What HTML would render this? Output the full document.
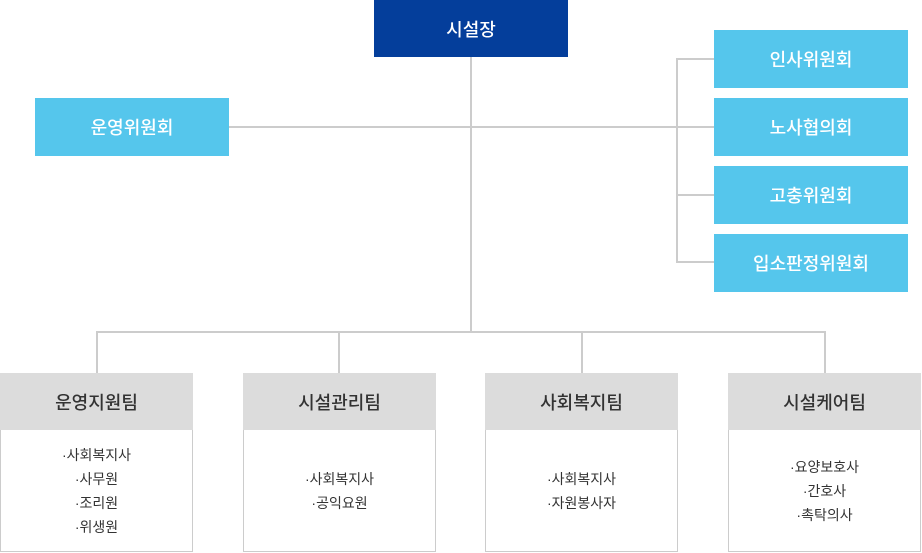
<!DOCTYPE html>
<html><head><meta charset="utf-8"><style>
body{margin:0;width:922px;height:553px;position:relative;background:#fff;font-family:"Liberation Sans","Noto Sans CJK KR",sans-serif;overflow:hidden}
.b{position:absolute;display:flex;align-items:center;justify-content:center;color:#fff;font-size:18px;font-weight:500}
.l{position:absolute;background:#ccc}
.c{background:#55c6ec;width:194px;height:58px}
.t{position:absolute;width:193px;top:373px;height:179px;box-sizing:border-box;border:1px solid #ccc;border-top:none}
.t .h{height:57px;background:#dcdcdc;display:flex;align-items:center;justify-content:center;font-size:18px;color:#333;margin:0 -1px;font-weight:500}
.t .d{height:121px;display:flex;flex-direction:column;align-items:center;justify-content:center;font-size:14px;color:#333;line-height:24px}
</style></head><body>
<div class="l" style="left:470px;top:57px;width:2px;height:276px"></div>
<div class="l" style="left:229px;top:126px;width:485px;height:2px"></div>
<div class="l" style="left:676px;top:58px;width:2px;height:205px"></div>
<div class="l" style="left:676px;top:58px;width:38px;height:2px"></div>
<div class="l" style="left:676px;top:194px;width:38px;height:2px"></div>
<div class="l" style="left:676px;top:261px;width:38px;height:2px"></div>
<div class="l" style="left:96px;top:331px;width:730px;height:2px"></div>
<div class="l" style="left:96px;top:331px;width:2px;height:42px"></div>
<div class="l" style="left:338px;top:331px;width:2px;height:42px"></div>
<div class="l" style="left:581px;top:331px;width:2px;height:42px"></div>
<div class="l" style="left:824px;top:331px;width:2px;height:42px"></div>
<div class="b" style="left:374px;top:0;width:194px;height:57px;background:#043e9b">시설장</div>
<div class="b c" style="left:35px;top:98px">운영위원회</div>
<div class="b c" style="left:714px;top:30px">인사위원회</div>
<div class="b c" style="left:714px;top:98px">노사협의회</div>
<div class="b c" style="left:714px;top:166px">고충위원회</div>
<div class="b c" style="left:714px;top:234px">입소판정위원회</div>
<div class="t" style="left:0"><div class="h">운영지원팀</div><div class="d"><div>·사회복지사</div><div>·사무원</div><div>·조리원</div><div>·위생원</div></div></div>
<div class="t" style="left:243px"><div class="h">시설관리팀</div><div class="d"><div>·사회복지사</div><div>·공익요원</div></div></div>
<div class="t" style="left:485px"><div class="h">사회복지팀</div><div class="d"><div>·사회복지사</div><div>·자원봉사자</div></div></div>
<div class="t" style="left:728px"><div class="h">시설케어팀</div><div class="d"><div>·요양보호사</div><div>·간호사</div><div>·촉탁의사</div></div></div>
</body></html>
